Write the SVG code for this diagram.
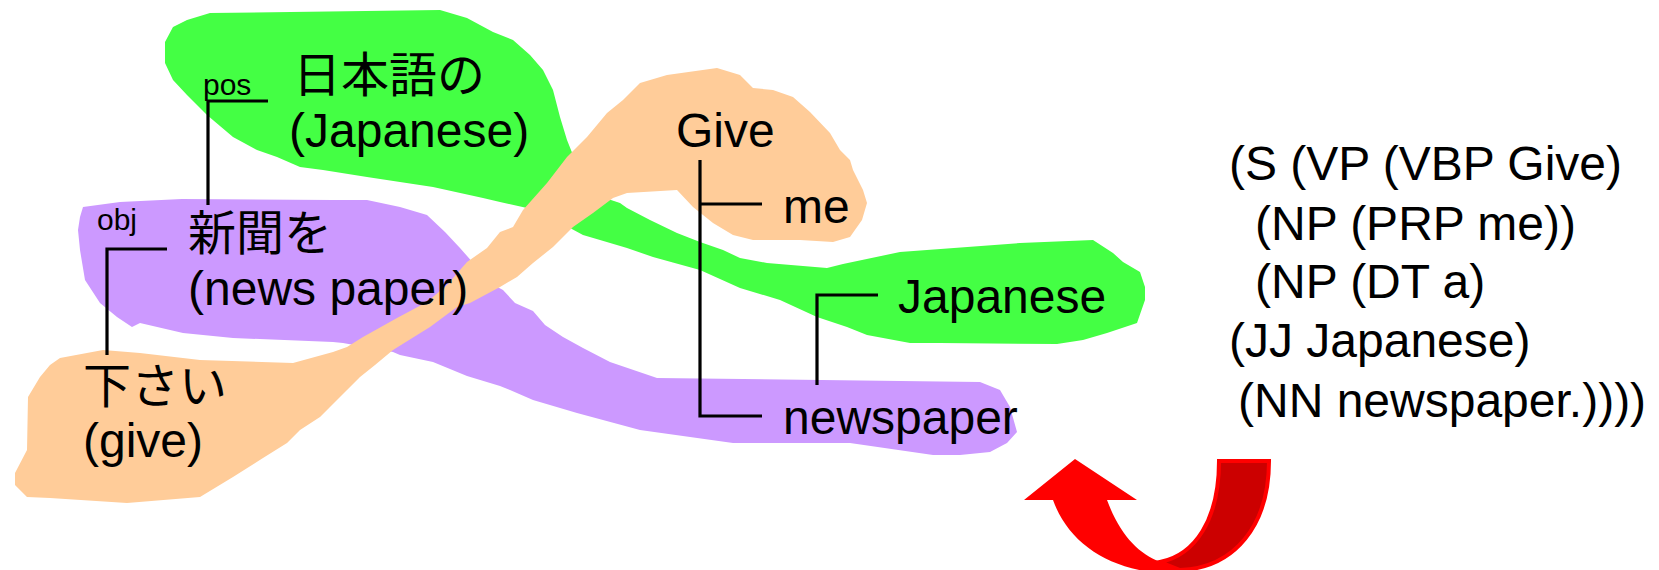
<svg xmlns="http://www.w3.org/2000/svg" width="1659" height="570" viewBox="0 0 1659 570">
<style>
.t{font-family:"Liberation Sans","Noto Sans CJK JP",Arial,sans-serif;font-size:48px;fill:#000}
.s{font-family:"Liberation Sans",Arial,sans-serif;font-size:30px;fill:#000}
.ln{fill:none;stroke:#000;stroke-width:3.2;stroke-linecap:butt;stroke-linejoin:miter}
</style>
<rect width="1659" height="570" fill="#fff"/>
<g id="regions">
<polygon id="green-region" fill="#44FF44" points="165,42 173,27 187,20 210,13 440,10 467,18 493,32 513,40 530,55 543,70 553,90 560,117 567,140 573,155 585,180 605,198 620,203 627,208 650,220 677,233 700,242 723,250 740,258 767,263 827,268 843,264 900,252 1020,243 1093,240 1113,253 1123,262 1140,272 1145,287 1145,300 1137,323 1107,333 1083,340 1057,344 940,343 910,343 867,335 847,327 817,317 780,300 740,288 700,270 653,257 627,248 600,240 583,235 570,228 527,208 500,202 483,198 433,187 367,177 323,170 300,167 277,157 257,150 233,137 207,115 187,95 173,80 165,63"/>
<polygon id="purple-region" fill="#CC99FF" points="83,207 120,202 182,199 333,200 367,200 400,207 427,215 445,232 460,248 475,265 490,283 503,290 515,303 533,311 545,325 563,337 583,348 610,362 657,378 980,382 1000,390 1010,407 1017,432 1007,443 990,452 960,455 933,455 850,443 733,443 640,430 577,413 533,400 510,390 500,386 467,376 433,362 400,355 393,352 343,343 333,342 233,338 183,333 140,323 132,327 117,317 100,303 85,280 80,250 78,230 80,217"/>
<polygon id="orange-region" fill="#FFCC99" points="60,358 103,350 140,353 200,360 293,363 333,352 347,347 363,337 397,318 427,302 447,285 467,262 487,248 500,232 513,227 523,210 547,183 567,157 587,137 607,113 623,100 640,83 667,75 717,68 740,75 753,88 773,90 793,97 810,112 830,133 840,150 850,160 853,170 863,190 867,203 862,220 850,237 833,242 800,240 753,240 733,235 713,223 693,207 677,190 627,193 613,198 593,213 573,227 553,247 533,263 517,277 500,287 470,303 457,307 430,327 393,350 375,365 360,377 347,390 330,407 320,417 300,430 287,443 263,458 233,477 200,497 127,503 50,498 27,497 15,485 15,473 27,450 28,397 40,377 50,365"/>
</g>
<g id="connectors">
<path class="ln" d="M268,101 H208 V205"/>
<path class="ln" d="M167,249 H107 V355"/>
<path class="ln" d="M700,160 V416 H762"/>
<path class="ln" d="M700,204 H762"/>
<path class="ln" d="M878,295 H817 V385"/>
</g>
<g id="node-nihongo">
<text class="t" x="293" y="92">日本語の</text>
<text class="t" x="289" y="147">(Japanese)</text>
</g>
<g id="label-pos"><text class="s" x="203" y="95">pos</text></g>
<g id="label-obj"><text class="s" x="97" y="230">obj</text></g>
<g id="node-shinbun">
<text class="t" x="188" y="250">新聞を</text>
<text class="t" x="188" y="305">(news paper)</text>
</g>
<g id="node-kudasai">
<text class="t" x="83" y="403">下さい</text>
<text class="t" x="83" y="457">(give)</text>
</g>
<g id="node-give"><text class="t" x="676" y="147">Give</text></g>
<g id="node-me"><text class="t" x="783" y="223">me</text></g>
<g id="node-japanese"><text class="t" x="898" y="313">Japanese</text></g>
<g id="node-newspaper"><text class="t" x="783" y="434">newspaper</text></g>
<g id="parse-tree">
<text class="t" x="1229" y="180">(S (VP (VBP Give)</text>
<text class="t" x="1255" y="240">(NP (PRP me))</text>
<text class="t" x="1255" y="298">(NP (DT a)</text>
<text class="t" x="1229" y="357">(JJ Japanese)</text>
<text class="t" x="1238" y="417">(NN newspaper.))))</text>
</g>
<g id="curved-arrow">
<path d="M1219,461 L1269,461 C1269,525 1235,568 1180,570 L1160,562 C1195,555 1219,520 1219,461 Z" fill="#CC0000" stroke="#FF0000" stroke-width="4" stroke-linejoin="miter"/>
<path d="M1053,500 L1024,500 L1075,459 L1137,500 L1107,500 C1120,535 1138,553 1160,562 L1190,573 C1120,578 1070,548 1053,500 Z" fill="#FF0000"/>
</g>
</svg>
